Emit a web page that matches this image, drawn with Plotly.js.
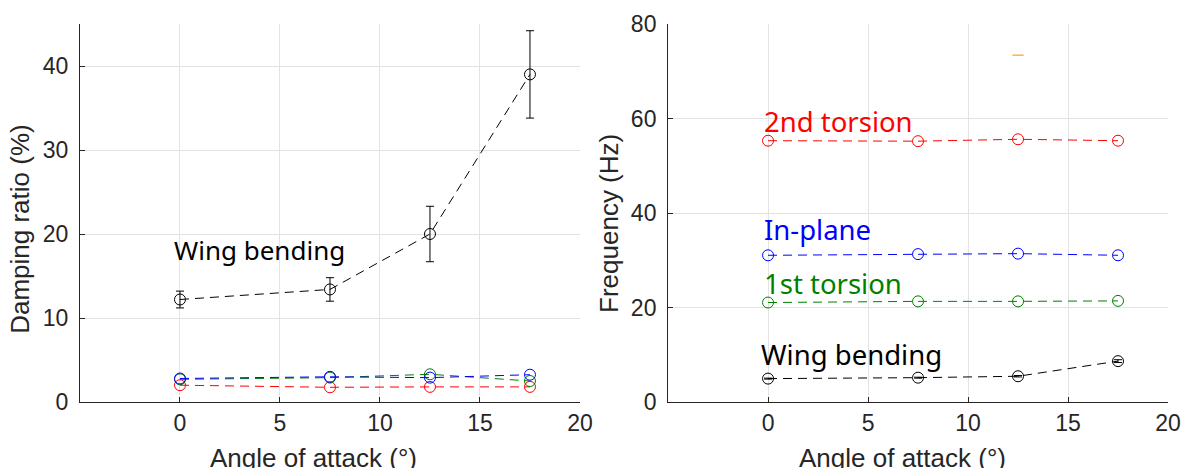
<!DOCTYPE html>
<html>
<head>
<meta charset="utf-8">
<script src="https://cdn.plot.ly/plotly-3.0.1.min.js"></script>
<style>html,body{margin:0;padding:0;background:#fff;}#chart{width:1187px;height:468px;}</style>
</head>
<body>
<div id="chart"></div>
<script>
// Angle of attack (deg)
const angles = [0, 7.5, 12.5, 17.5];

// Damping ratio (%)
const dampBending = [12.2, 13.4, 20.0, 39.0];
const dampBendingErr = [1.0, 1.4, 3.3, 5.2];
const dampTorsion1 = [2.7, 2.9, 3.3, 2.5];
const dampInPlane = [2.8, 3.0, 2.9, 3.25];
const dampTorsion2 = [2.0, 1.75, 1.8, 1.8];

// Frequency (Hz)
const freqBending = [4.95, 5.15, 5.45, 8.65];
const freqBendingErr = [0.1, 0.1, 0.15, 0.3];
const freqTorsion1 = [21.05, 21.3, 21.3, 21.4];
const freqInPlane = [31.05, 31.3, 31.4, 31.05];
const freqTorsion2 = [55.3, 55.2, 55.6, 55.3];
const strayAngle = [12.5];
const strayFreq = [73.4];

const modeLabels = ["Wing bending", "1st torsion", "In-plane", "2nd torsion"];
const xTitle = "Angle of attack (°)";
const yTitleLeft = "Damping ratio (%)";
const yTitleRight = "Frequency (Hz)";

function series(x, y, color, xa, ya, err) {
  const t = {
    x: x, y: y, xaxis: xa, yaxis: ya, type: 'scatter', mode: 'lines+markers',
    line: {color: color, width: 1, dash: '9px,6px'},
    marker: {symbol: 'circle-open', size: 11, color: color, line: {width: 1, color: color}},
    showlegend: false, hoverinfo: 'x+y'
  };
  if (err) t.error_y = {type: 'data', array: err, visible: true, color: color, thickness: 1, width: 4};
  return t;
}

const data = [
  series(angles, dampTorsion2, '#ff0000', 'x', 'y'),
  series(angles, dampTorsion1, '#008000', 'x', 'y'),
  series(angles, dampInPlane, '#0000ff', 'x', 'y'),
  series(angles, dampBending, '#000000', 'x', 'y', dampBendingErr),
  series(angles, freqTorsion2, '#ff0000', 'x2', 'y2'),
  series(angles, freqInPlane, '#0000ff', 'x2', 'y2'),
  series(angles, freqTorsion1, '#008000', 'x2', 'y2'),
  series(angles, freqBending, '#000000', 'x2', 'y2', freqBendingErr),
  {x: strayAngle, y: strayFreq, xaxis: 'x2', yaxis: 'y2', type: 'scatter', mode: 'markers',
   marker: {symbol: 'line-ew', size: 8, color: '#ffb347', line: {width: 1.5, color: '#ffb347'}}, showlegend: false}
];

const axisCommon = {
  showgrid: true, gridcolor: '#e3e3e3', gridwidth: 1,
  showline: true, linecolor: '#262626', linewidth: 1, mirror: false,
  ticks: 'inside', ticklen: 5, tickcolor: '#262626',
  tickfont: {family: 'Liberation Sans, Arial, sans-serif', size: 23, color: '#262626'},
  zeroline: false
};
const titleFont = {family: 'Liberation Sans, Arial, sans-serif', size: 26, color: '#262626'};
const noto = (size, color) => ({family: 'Noto Sans, sans-serif', size: size, color: color});

const layout = {
  width: 1187, height: 468,
  margin: {l: 0, r: 0, t: 24, b: 66},
  paper_bgcolor: '#fff', plot_bgcolor: '#fff',
  xaxis: Object.assign({}, axisCommon, {domain: [0.0674, 0.4886], range: [-5, 20], tickvals: [0, 5, 10, 15, 20]}),
  yaxis: Object.assign({}, axisCommon, {range: [0, 45], tickvals: [0, 10, 20, 30, 40], anchor: 'x', ticklabelstandoff: 6}),
  xaxis2: Object.assign({}, axisCommon, {domain: [0.5628, 0.984], range: [-5, 20], tickvals: [0, 5, 10, 15, 20], anchor: 'y2'}),
  yaxis2: Object.assign({}, axisCommon, {range: [0, 80], tickvals: [0, 20, 40, 60, 80], anchor: 'x2', ticklabelstandoff: 6}),
  annotations: [
    {xref: 'paper', yref: 'paper', x: 0.2637, y: -0.103, text: xTitle, showarrow: false, xanchor: 'center', yanchor: 'top', font: titleFont},
    {xref: 'paper', yref: 'paper', x: 0.760, y: -0.103, text: xTitle, showarrow: false, xanchor: 'center', yanchor: 'top', font: titleFont},
    {xref: 'paper', yref: 'paper', x: 0.0168, y: 0.458, text: yTitleLeft, textangle: -90, showarrow: false, xanchor: 'center', yanchor: 'middle', font: titleFont},
    {xref: 'paper', yref: 'paper', x: 0.513, y: 0.4735, text: yTitleRight, textangle: -90, showarrow: false, xanchor: 'center', yanchor: 'middle', font: titleFont},
    {xref: 'x', yref: 'y', x: -0.4, y: 18.1, text: modeLabels[0], showarrow: false, xanchor: 'left', yanchor: 'middle', font: noto(26, '#000000')},
    {xref: 'x2', yref: 'y2', x: -0.3, y: 59.4, text: modeLabels[3], showarrow: false, xanchor: 'left', yanchor: 'middle', font: noto(27.5, '#ff0000')},
    {xref: 'x2', yref: 'y2', x: -0.3, y: 36.5, text: modeLabels[2], showarrow: false, xanchor: 'left', yanchor: 'middle', font: noto(27.5, '#0000ff')},
    {xref: 'x2', yref: 'y2', x: -0.3, y: 25.0, text: modeLabels[1], showarrow: false, xanchor: 'left', yanchor: 'middle', font: noto(27.5, '#008000')},
    {xref: 'x2', yref: 'y2', x: -0.45, y: 10.0, text: modeLabels[0], showarrow: false, xanchor: 'left', yanchor: 'middle', font: noto(27.5, '#000000')}
  ]
};

Plotly.newPlot('chart', data, layout, {displayModeBar: false, staticPlot: true});
</script>
</body>
</html>
